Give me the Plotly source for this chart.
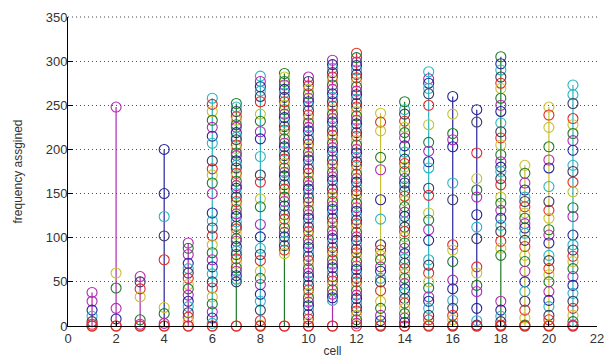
import plotly.graph_objects as go

cells = list(range(1, 22))

# circle values per cell
values = {
    1: [38, 28, 18, 11, 5, 2, 0, 0],
    2: [248, 60, 43, 20, 8, 0, 0],
    3: [56, 50, 42, 33, 7, 2, 0, 0],
    4: [200, 150, 124, 102, 75, 21, 14, 3, 0, 0],
    5: [94, 88, 81, 71, 65, 60, 54, 47, 42, 35, 28, 22, 15, 10, 5, 0, 0],
    6: [258, 251, 243, 233, 225, 215, 207, 187, 178, 171, 162, 150, 128, 119, 111, 102,
        92, 83, 75, 67, 59, 50, 43, 33, 25, 16, 9, 3, 0, 0],
    7: [252, 248, 243, 237, 233, 228, 225, 219, 214, 211, 205, 201, 196, 193, 187, 182,
        179, 173, 170, 164, 159, 156, 150, 146, 141, 137, 132, 127, 124, 118, 113, 110,
        104, 99, 96, 90, 85, 81, 76, 71, 66, 62, 57, 53, 50, 0, 0],
    8: [283, 277, 271, 266, 260, 254, 240, 232, 220, 212, 192, 171, 163, 144, 135, 115,
        101, 88, 81, 74, 62, 54, 47, 36, 28, 18, 6, 1, 0, 0],
    9: [286, 282, 277, 273, 268, 264, 259, 254, 250, 245, 240, 236, 231, 226, 222, 217,
        212, 207, 203, 198, 193, 189, 184, 179, 174, 170, 165, 160, 155, 151, 146, 141,
        136, 131, 126, 121, 116, 111, 106, 101, 96, 91, 86, 82, 0, 0],
    10: [282, 277, 272, 268, 263, 258, 254, 249, 244, 239, 235, 230, 225, 221, 216, 211,
         206, 202, 197, 192, 188, 183, 178, 173, 169, 164, 159, 155, 150, 145, 140, 136,
         131, 126, 122, 117, 112, 107, 103, 98, 93, 89, 84, 79, 74, 70, 65, 60, 56, 51,
         46, 41, 37, 32, 27, 23, 18, 13, 8, 4, 0, 0],
    11: [301, 296, 292, 287, 282, 278, 273, 268, 263, 259, 254, 249, 245, 240, 235, 231,
         226, 221, 216, 212, 207, 202, 198, 193, 188, 183, 179, 174, 169, 165, 160, 155,
         150, 146, 141, 136, 132, 127, 122, 117, 113, 108, 103, 99, 94, 89, 84, 80, 75,
         70, 66, 61, 56, 51, 46, 41, 36, 32, 29, 0, 0],
    12: [309, 304, 299, 295, 290, 285, 281, 276, 271, 266, 262, 257, 252, 248, 243, 238,
         233, 229, 224, 219, 215, 210, 205, 200, 196, 191, 186, 182, 177, 172, 167, 163,
         158, 153, 149, 144, 139, 134, 130, 125, 120, 116, 111, 106, 101, 97, 92, 87, 83,
         78, 73, 68, 64, 59, 54, 50, 45, 40, 35, 31, 26, 21, 17, 12, 7, 3, 0],
    13: [241, 231, 221, 191, 177, 143, 121, 92, 86, 80, 75, 67, 62, 54, 50, 40, 28, 20,
         12, 6, 1, 0, 0],
    14: [254, 245, 240, 232, 225, 219, 213, 204, 197, 189, 184, 180, 175, 167, 162, 158,
         153, 147, 142, 135, 129, 124, 118, 112, 107, 101, 94, 88, 82, 76, 71, 65, 59, 54,
         48, 42, 37, 31, 26, 20, 14, 9, 4, 0, 0],
    15: [288, 280, 275, 269, 263, 250, 228, 208, 198, 186, 179, 156, 148, 128, 120, 109,
         97, 75, 69, 60, 50, 43, 33, 28, 20, 12, 7, 1, 0, 0],
    16: [260, 240, 218, 211, 203, 162, 143, 92, 86, 73, 52, 42, 29, 20, 12, 7, 1, 0, 0],
    17: [245, 231, 196, 167, 154, 146, 126, 112, 99, 67, 60, 46, 39, 20, 6, 1, 0, 0],
    18: [305, 297, 290, 282, 275, 269, 258, 250, 243, 230, 220, 213, 205, 194, 186, 180,
         175, 167, 160, 146, 139, 131, 122, 114, 107, 96, 88, 80, 28, 18, 11, 5, 1, 0, 0],
    19: [182, 173, 162, 154, 146, 141, 135, 128, 122, 116, 111, 105, 97, 90, 80, 73, 62,
         50, 39, 28, 18, 9, 1, 0, 0],
    20: [248, 239, 225, 203, 188, 179, 158, 141, 131, 122, 109, 103, 94, 80, 74, 65, 58,
         50, 39, 29, 22, 12, 7, 1, 0, 0],
    21: [273, 262, 252, 235, 228, 218, 210, 199, 182, 175, 163, 152, 134, 124, 103, 92,
         86, 79, 73, 65, 56, 46, 37, 28, 20, 12, 5, 1, 0, 0],
}

y_ticks = list(range(0, 351, 50))
x_ticks = list(range(0, 23, 2))

# colour of the stem line (and top circle) of each cell
stem_colors = ["m", "m", "m", "b", "m", "c", "g", "c", "g", "m", "m",
               "r", "y", "g", "c", "b", "b", "g", "y", "y", "c"]

palette = {
    "b": "#24249a",
    "g": "#1f7a2a",
    "r": "#e02a2a",
    "c": "#2ab4c0",
    "m": "#b02ab0",
    "y": "#c8c030",
    "k": "#3a3a60",
}
cycle = ["b", "g", "r", "c", "m", "y", "k"]

fig = go.Figure()

# stem lines grouped by colour
for key in palette:
    xs, ys = [], []
    for c, sc in zip(cells, stem_colors):
        if sc == key:
            xs += [c, c, None]
            ys += [0, max(values[c]), None]
    if xs:
        fig.add_trace(go.Scatter(x=xs, y=ys, mode="lines",
                                 line=dict(color=palette[key], width=1.2),
                                 hoverinfo="skip", showlegend=False))

# circles
px, py, pc = [], [], []
zx, zy = [], []
for c, sc in zip(cells, stem_colors):
    vals = values[c]
    for i, v in enumerate(vals):
        if v == 0:
            zx.append(c)
            zy.append(v)
            continue
        if i == 0:
            col = palette[sc]
        else:
            col = palette[cycle[(i * 3 + c) % 7]]
        px.append(c)
        py.append(v)
        pc.append(col)

fig.add_trace(go.Scatter(x=px, y=py, mode="markers",
                         marker=dict(symbol="circle-open", size=10, color=pc,
                                     line=dict(width=1.1)),
                         cliponaxis=False, showlegend=False))
fig.add_trace(go.Scatter(x=zx, y=zy, mode="markers",
                         marker=dict(symbol="circle-open", size=10, color=palette["r"],
                                     line=dict(width=1.1)),
                         cliponaxis=False, showlegend=False))

# top grid line at the upper range edge (drawn in paper coordinates so it is not clipped)
fig.add_shape(type="line", xref="paper", x0=0, x1=1, yref="paper", y0=1, y1=1,
              line=dict(color="#444", width=1, dash="1px,3px"), layer="above")

font = "Liberation Sans, Arial, sans-serif"
fig.update_layout(
    width=614, height=363,
    margin=dict(l=68, r=17, t=17, b=37),
    paper_bgcolor="white", plot_bgcolor="white",
    font=dict(family=font, size=13, color="#333"),
    showlegend=False,
    xaxis=dict(range=[0, 22], tickvals=x_ticks, showgrid=False,
               zeroline=False, showline=True, linecolor="#000", linewidth=1,
               ticks="inside", ticklen=5, tickcolor="#000", automargin=False,
               tickfont=dict(size=13, color="#333"),
               title=dict(text="cell", standoff=2, font=dict(size=12, color="#333"))),
    yaxis=dict(range=[0, y_ticks[-1]], tickvals=y_ticks, showgrid=True,
               gridcolor="#555", griddash="1px,3px", gridwidth=1,
               zeroline=False, showline=True, linecolor="#000", linewidth=1,
               ticks="inside", ticklen=5, tickcolor="#000", automargin=False,
               ticklabelstandoff=-3,
               tickfont=dict(size=13, color="#333"),
               title=dict(text="frequency assgined", standoff=20,
                          font=dict(size=12, color="#333"))),
)

fig.write_html("out.html", config={"displayModeBar": False},
               post_script="document.body.style.margin='0';document.body.style.overflow='hidden';")
